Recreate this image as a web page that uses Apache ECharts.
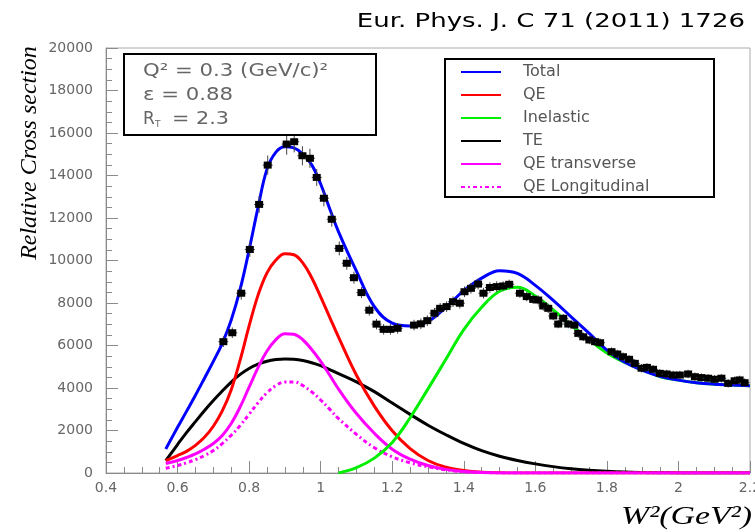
<!DOCTYPE html>
<html><head><meta charset="utf-8">
<script src="https://cdn.jsdelivr.net/npm/echarts@6/dist/echarts.min.js"></script>
<style>html,body{margin:0;padding:0;background:#fff}#c{width:755px;height:532px}</style>
</head><body><div id="c"></div>
<script>
// x grid for the model curves (W^2 in GeV^2)
const curveX = [0.567,0.60,0.625,0.65,0.675,0.70,0.725,0.75,0.775,0.80,0.825,0.85,0.875,0.90,0.925,0.95,0.975,1.00,1.025,
                1.05,1.10,1.15,1.20,1.25,1.30,1.35,1.40,1.45,1.50,1.55,1.60,1.65,1.70,1.75,1.80,1.85,1.90,1.95,2.00,2.05,2.10,2.15,2.20];
const totalY = [1130,2150,2900,3660,4450,5250,6100,7200,8650,10500,12500,14300,15100,15350,15300,15000,14500,13600,12450,
                11350,9500,7830,7050,6920,7130,7800,8580,9170,9520,9390,8830,8120,7350,6580,5780,5210,4830,4540,4370,4250,4180,4140,4100];
const qeY    = [580,820,1020,1300,1680,2200,2920,3920,5320,6920,8370,9420,10020,10320,10270,9890,9190,8290,7340,
                6390,4600,3150,1990,1150,590,270,120,40,10,0,0,0,0,0,0,0,0,0,0,0,0,0,0];
const teY    = [580,1340,1900,2420,2930,3410,3860,4280,4640,4920,5120,5260,5340,5370,5350,5290,5190,5050,4870,
                4680,4290,3830,3290,2760,2250,1800,1390,1050,790,590,430,300,200,130,80,45,25,12,5,0,0,0,0];
const qeTransY = [450,590,730,900,1120,1390,1770,2330,3110,4040,4960,5740,6280,6550,6530,6270,5810,5250,4610,
                  3950,2800,1870,1120,650,350,170,70,25,5,0,0,0,0,0,0,0,0,0,0,0,0,0,0];
const qeLongY  = [220,350,480,630,820,1055,1385,1775,2235,2765,3305,3775,4115,4285,4285,4115,3815,3435,3005,
                  2560,1820,1190,760,480,290,150,60,20,5,0,0,0,0,0,0,0,0,0,0,0,0,0,0];
const inelX = [1.05,1.10,1.15,1.20,1.25,1.30,1.35,1.40,1.45,1.50,1.55,1.60,1.65,1.70,1.75,1.80,1.85,1.90,1.95,2.00,2.05,2.10,2.15,2.20];
const inelY = [0,250,700,1440,2600,3960,5350,6750,7800,8550,8740,8330,7670,6960,6270,5650,5200,4840,4530,4370,4250,4180,4140,4100];

// measured points
const dataX = [0.728,0.753,0.778,0.802,0.828,0.852,0.905,0.926,0.949,0.970,0.989,1.009,1.031,1.052,1.073,1.093,1.114,1.136,1.156,1.176,1.195,1.215,1.261,1.280,1.298,1.318,1.334,1.352,1.370,1.389,1.402,1.420,1.440,1.455,1.473,1.492,1.510,1.527,1.557,1.576,1.594,1.608,1.622,1.636,1.650,1.664,1.678,1.692,1.709,1.720,1.734,1.751,1.767,1.781,1.813,1.829,1.845,1.862,1.878,1.897,1.912,1.929,1.948,1.967,1.985,2.004,2.027,2.046,2.064,2.083,2.101,2.120,2.139,2.157,2.171,2.185];
const dataY = [6180,6600,8460,10520,12640,14490,15480,15590,14930,14810,13910,12930,11940,10570,9870,9190,8490,7660,7005,6760,6760,6810,6960,7020,7170,7520,7750,7830,8060,7990,8530,8690,8890,8460,8730,8770,8800,8880,8460,8300,8170,8140,7860,7750,7390,7010,7280,7010,6960,6570,6410,6260,6180,6130,5710,5600,5470,5350,5160,4930,4970,4880,4690,4660,4610,4610,4660,4530,4490,4460,4410,4460,4220,4340,4380,4250];
const dataErr = [250,250,300,350,400,450,500,500,450,450,400,380,350,330,300,280,260,250,250,250,250,250,250,250,250,250,250,250,250,250,250,250,250,250,250,250,220,220,220,220,220,220,220,220,200,200,200,200,200,200,200,200,200,200,200,200,200,200,200,200,200,200,200,200,200,200,200,200,200,200,200,200,200,200,200,200];

const legendOrder = ['Total','QE','Inelastic','TE','QE transverse','QE Longitudinal'];

const zip = (xs, ys) => xs.map((x, i) => [x, ys[i]]);
const points = dataX.map((x, i) => [x, dataY[i], dataErr[i]]);

const chart = echarts.init(document.getElementById('c'), null, {renderer: 'canvas'});
const axisGray = '#8a8a8a';
const labelStyle = {color: '#666', fontFamily: 'DejaVu Sans', fontSize: 14};
const lineSeries = (name, xs, ys, color, z, type) => ({
  type: 'line', name, data: zip(xs, ys), symbol: 'none', smooth: 0.4, z,
  lineStyle: {color, width: 3, type: type || 'solid'}, itemStyle: {color},
  emphasis: {disabled: true}, silent: true
});

chart.setOption({
  animation: false,
  backgroundColor: '#fff',
  grid: {left: 106, right: 5, top: 48, bottom: 59, show: true, borderColor: '#aaa', borderWidth: 1, outerBoundsMode: 'none', containLabel: false},
  xAxis: {
    type: 'value', min: 0.4, max: 2.2, interval: 0.2,
    axisLine: {show: true, lineStyle: {color: axisGray, width: 1}},
    axisTick: {show: true, inside: true, length: 12, lineStyle: {color: axisGray}},
    minorTick: {show: true, splitNumber: 4, length: 6, lineStyle: {color: axisGray}},
    splitLine: {show: false}, minorSplitLine: {show: false},
    axisLabel: Object.assign({margin: 8, showMinLabel: true, showMaxLabel: true}, labelStyle)
  },
  yAxis: {
    type: 'value', min: 0, max: 20000, interval: 2000,
    axisLine: {show: true, lineStyle: {color: axisGray, width: 1}},
    axisTick: {show: true, inside: true, length: 12, lineStyle: {color: axisGray}},
    minorTick: {show: true, splitNumber: 4, length: 6, lineStyle: {color: axisGray}},
    splitLine: {show: false}, minorSplitLine: {show: false},
    axisLabel: Object.assign({margin: 13, formatter: v => String(v)}, labelStyle)
  },
  legend: {
    data: legendOrder, orient: 'vertical', left: 460, top: 64, padding: 0,
    itemWidth: 40, itemHeight: 14, itemGap: 7, selectedMode: false,
    itemStyle: {opacity: 0},
    textStyle: {color: '#555', fontFamily: 'DejaVu Sans', fontSize: 16, padding: [0, 0, 0, 17]}
  },
  graphic: [
    {type: 'text', x: 745, y: 22, scaleX: 1.3, silent: true,
     style: {text: 'Eur. Phys. J. C 71 (2011) 1726', font: '20px "DejaVu Sans"', fill: '#000', align: 'right', textAlign: 'right', verticalAlign: 'middle', textVerticalAlign: 'middle'}},
    {type: 'text', x: 30, y: 153, rotation: Math.PI / 2, silent: true,
     style: {text: 'Relative Cross section', font: 'italic 24px "Liberation Serif"', fill: '#000', align: 'center', textAlign: 'center', verticalAlign: 'middle', textVerticalAlign: 'middle'}},
    {type: 'text', x: 752, y: 530, scaleX: 1.3, silent: true,
     style: {text: 'W\u00b2(GeV\u00b2)', font: 'italic 26px "Liberation Serif"', fill: '#000', align: 'right', textAlign: 'right', verticalAlign: 'bottom', textVerticalAlign: 'bottom'}},
    {type: 'rect', shape: {x: 124, y: 54, width: 252, height: 81}, silent: true, z: 50,
     style: {fill: '#fff', stroke: '#000', lineWidth: 2}},
    {type: 'text', x: 143, y: 72, scaleX: 1.25, silent: true, z: 51,
     style: {text: 'Q\u00b2 = 0.3 (GeV/c)\u00b2', font: '17px "DejaVu Sans"', fill: '#666', align: 'left', textAlign: 'left', verticalAlign: 'middle', textVerticalAlign: 'middle'}},
    {type: 'text', x: 143, y: 96, scaleX: 1.25, silent: true, z: 51,
     style: {text: '\u03b5 = 0.88', font: '17px "DejaVu Sans"', fill: '#666', align: 'left', textAlign: 'left', verticalAlign: 'middle', textVerticalAlign: 'middle'}},
    {type: 'text', x: 143, y: 120, silent: true, z: 51,
     style: {text: 'R', font: '17px "DejaVu Sans"', fill: '#666', align: 'left', textAlign: 'left', verticalAlign: 'middle', textVerticalAlign: 'middle'}},
    {type: 'text', x: 155, y: 125, silent: true, z: 51,
     style: {text: 'T', font: '9px "DejaVu Sans"', fill: '#666', align: 'left', textAlign: 'left', verticalAlign: 'middle', textVerticalAlign: 'middle'}},
    {type: 'text', x: 172, y: 120, scaleX: 1.22, silent: true, z: 51,
     style: {text: '= 2.3', font: '17px "DejaVu Sans"', fill: '#666', align: 'left', textAlign: 'left', verticalAlign: 'middle', textVerticalAlign: 'middle'}},
    {type: 'rect', shape: {x: 445, y: 59, width: 269, height: 138}, silent: true, z: -1,
     style: {fill: 'none', stroke: '#000', lineWidth: 2}}
  ],
  series: [
    lineSeries('TE', curveX, teY, '#000000', 2),
    lineSeries('QE', curveX, qeY, '#ff0000', 3),
    lineSeries('QE transverse', curveX, qeTransY, '#ff00ff', 4),
    lineSeries('QE Longitudinal', curveX, qeLongY, '#ff00ff', 4, [4, 3, 2, 3]),
    lineSeries('Inelastic', inelX, inelY, '#00ee00', 5),
    lineSeries('Total', curveX, totalY, '#0000ff', 6),
    {
      type: 'custom', name: 'data', data: points, z: 10, silent: true,
      encode: {x: 0, y: 1},
      renderItem: (params, api) => {
        const x = api.value(0), y = api.value(1), e = api.value(2);
        const c = api.coord([x, y]);
        const t = api.coord([x, y + e]);
        const b = api.coord([x, y - e]);
        return {type: 'group', children: [
          {type: 'line', shape: {x1: c[0], y1: t[1], x2: c[0], y2: b[1]}, style: {stroke: '#444', lineWidth: 1}},
          {type: 'line', shape: {x1: c[0] - 5, y1: c[1], x2: c[0] + 5, y2: c[1]}, style: {stroke: '#444', lineWidth: 1}},
          {type: 'rect', shape: {x: c[0] - 4, y: c[1] - 3.5, width: 8, height: 7}, style: {fill: '#000'}}
        ]};
      }
    }
  ]
});
</script></body></html>
